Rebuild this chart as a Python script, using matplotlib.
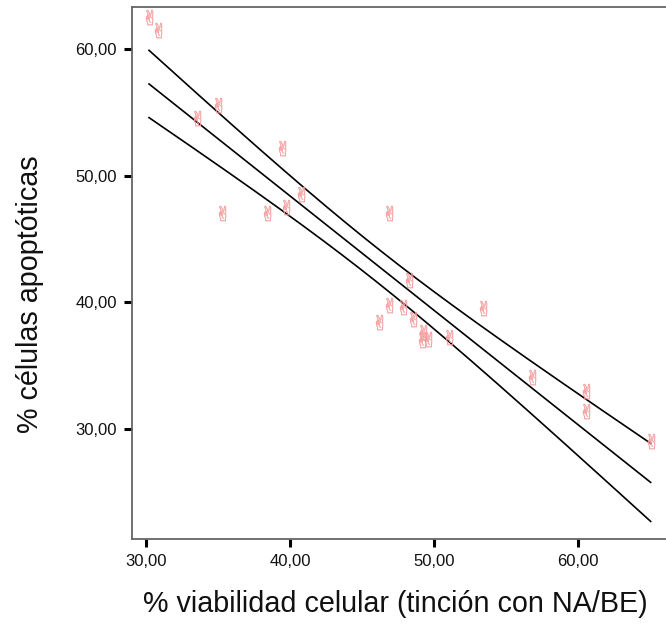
import numpy as np
import matplotlib
matplotlib.use("Agg")
import matplotlib.pyplot as plt
from matplotlib.ticker import FuncFormatter
from matplotlib.transforms import ScaledTranslation

# % viabilidad celular (x) vs % celulas apoptoticas (y)
viabilidad = [30.23, 30.87, 33.58, 35.03, 35.27, 38.43, 39.47, 39.73, 40.75,
              46.87, 48.28, 46.87, 47.86, 46.20, 48.52, 49.21, 49.18, 49.60,
              51.05, 53.41, 56.79, 60.53, 60.53, 65.02]
apoptoticas = [62.30, 61.25, 54.28, 55.33, 46.78, 46.83, 51.91, 47.30, 48.31,
               46.78, 41.52, 39.54, 39.41, 38.23, 38.42, 37.44, 36.78, 36.84,
               36.99, 39.28, 33.86, 32.78, 31.20, 28.83]
x_ticks = [30, 40, 50, 60]
y_ticks = [30, 40, 50, 60]

x = np.array(viabilidad)
y = np.array(apoptoticas)

# linear fit + 95% confidence band of the mean
n = len(x)
slope, intercept = np.polyfit(x, y, 1)
resid = y - (slope * x + intercept)
s = np.sqrt(np.sum(resid ** 2) / (n - 2))
sxx = np.sum((x - x.mean()) ** 2)
t = 2.074  # t(0.975, 22)
xs = np.linspace(x.min(), x.max(), 200)
fit = slope * xs + intercept
hw = t * s * np.sqrt(1 / n + (xs - x.mean()) ** 2 / sxx)

fig = plt.figure(figsize=(6.66, 6.25), dpi=100)
ax = fig.add_axes([132 / 666, 86 / 625, 540 / 666, 532 / 625])

ax.plot(xs, fit, color="black", lw=1.2)
ax.plot(xs, fit + hw, color="black", lw=1.2)
ax.plot(xs, fit - hw, color="black", lw=1.2)

off = ax.transData + ScaledTranslation(0, 2.3 / 72, fig.dpi_scale_trans)
ax.scatter(x, y, marker="$\u270C$", s=120, color="#f59a9a",
           edgecolors="#f59a9a", linewidths=0.25, transform=off, zorder=3)

ax.set_xlim(29.05, 66.5)
ax.set_ylim(21.32, 63.31)
ax.set_xticks(x_ticks)
ax.set_yticks(y_ticks)
fmt = FuncFormatter(lambda v, p: f"{v:.2f}".replace(".", ","))
ax.xaxis.set_major_formatter(fmt)
ax.yaxis.set_major_formatter(fmt)
ax.tick_params(direction="out", length=6, width=2.2, color="black",
               labelsize=12, labelcolor="#111111", pad=5)
for sp in ax.spines.values():
    sp.set_color("#666666")
    sp.set_linewidth(1.3)
ax.spines["right"].set_visible(False)

for lab in ax.get_xticklabels() + ax.get_yticklabels():
    lab.set_family("Liberation Sans")

fig.text(395.5 / 666, 1 - 604 / 625, "% viabilidad celular (tinción con NA/BE)",
         ha="center", va="center", fontsize=20.7, family="Liberation Sans",
         color="#111111")
fig.text(30 / 666, 1 - 294 / 625, "% células apoptóticas", rotation=90,
         ha="center", va="center", fontsize=20.7, family="Liberation Sans",
         color="#111111")

fig.savefig("out.png", dpi=100)
